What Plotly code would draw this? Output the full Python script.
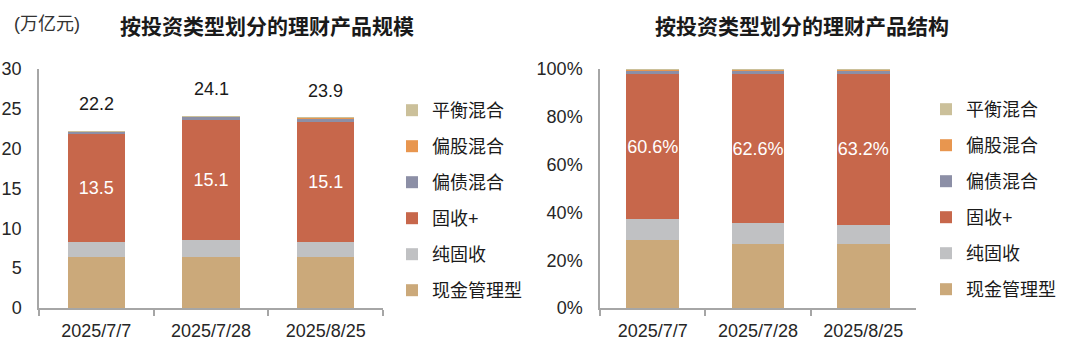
import plotly.graph_objects as go

# Reporting dates
dates = ["2025/7/7", "2025/7/28", "2025/8/25"]

# Product types, bottom to top of each stack
types = ["现金管理型", "纯固收", "固收+", "偏债混合", "偏股混合", "平衡混合"]
colors = ["#CBA97A", "#C0C1C3", "#C7674B", "#8C8FA6", "#E8964F", "#CBC09A"]

# Scale by type (万亿元)
scale_cash = [6.40, 6.45, 6.35]
scale_pure_fixed = [1.90, 2.05, 1.95]
scale_fixed_plus = [13.5, 15.1, 15.1]
scale_bond_mix = [0.30, 0.40, 0.40]
scale_equity_mix = [0.05, 0.05, 0.05]
scale_balanced = [0.05, 0.05, 0.05]
scale_totals = [22.2, 24.1, 23.9]

# Share of total by type (%)
share_cash = [28.6, 26.8, 26.8]
share_pure_fixed = [8.5, 8.6, 8.1]
share_fixed_plus = [60.6, 62.6, 63.2]
share_bond_mix = [1.7, 1.5, 1.4]
share_equity_mix = [0.3, 0.2, 0.2]
share_balanced = [0.3, 0.3, 0.3]

scale_series = [scale_cash, scale_pure_fixed, scale_fixed_plus,
                scale_bond_mix, scale_equity_mix, scale_balanced]
share_series = [share_cash, share_pure_fixed, share_fixed_plus,
                share_bond_mix, share_equity_mix, share_balanced]

FONT = "Arial, 'Liberation Sans', 'Noto Sans CJK SC', sans-serif"
CJK_FONT = "'Noto Sans CJK SC', sans-serif"
TICK_COLOR = "#262626"
AXIS_COLOR = "#A6A6A6"

fig = go.Figure()

for i, name in enumerate(types):
    is_plus = name == "固收+"
    common = dict(
        name=name, legendrank=len(types) - i,
        marker=dict(color=colors[i], line=dict(width=0)),
        textposition="inside" if is_plus else "none",
        insidetextanchor="middle", textangle=0,
        textfont=dict(color="white", size=18, family=FONT),
        constraintext="none", hoverinfo="x+y+name",
    )
    fig.add_trace(go.Bar(
        x=dates, y=scale_series[i], legendgroup=name, legend="legend",
        xaxis="x", yaxis="y",
        text=[f"{v:.1f}" for v in scale_series[i]] if is_plus else None,
        **common,
    ))
    fig.add_trace(go.Bar(
        x=dates, y=share_series[i], legendgroup=name + "_share", legend="legend2",
        xaxis="x2", yaxis="y2",
        text=[f"{v:.1f}%" for v in share_series[i]] if is_plus else None,
        **common,
    ))

# Total scale above each stack
for d, t in zip(dates, scale_totals):
    fig.add_annotation(x=d, y=t, xref="x", yref="y", text=f"{t:.1f}",
                       showarrow=False, yshift=27,
                       font=dict(size=18, color="#1A1A1A", family=FONT))

# Titles and unit label
for cx, title in [(267, "按投资类型划分的理财产品规模"), (802, "按投资类型划分的理财产品结构")]:
    fig.add_annotation(x=cx / 1080, y=1 - 25 / 341, xref="paper", yref="paper",
                       xanchor="center", yanchor="middle",
                       text=f"<b>{title}</b>", showarrow=False,
                       font=dict(size=21, color="#1A1A1A", family=CJK_FONT))
fig.add_annotation(x=47 / 1080, y=1 - 24 / 341, xref="paper", yref="paper",
                   xanchor="center", yanchor="middle",
                   text="(万亿元)", showarrow=False,
                   font=dict(size=18, color="#333333", family=FONT))

xaxis_style = dict(
    type="category", showline=True, linecolor=AXIS_COLOR, linewidth=1.5,
    ticks="outside", tickson="boundaries", ticklen=6, tickcolor=AXIS_COLOR,
    tickwidth=1.5, showgrid=False, zeroline=False, ticklabelstandoff=6,
    automargin=False,
    tickfont=dict(size=18, color=TICK_COLOR, family=FONT),
)
yaxis_style = dict(
    showline=True, linecolor=AXIS_COLOR, linewidth=1.5, ticks="",
    showgrid=False, zeroline=False, ticklabelstandoff=12, automargin=False,
    tickfont=dict(size=18, color=TICK_COLOR, family=FONT),
)

legend_style = dict(
    orientation="v", traceorder="grouped", tracegroupgap=9.6,
    font=dict(size=18, color="#1A1A1A", family=FONT),
    itemwidth=30, yanchor="top", bgcolor="rgba(0,0,0,0)",
    itemclick=False, itemdoubleclick=False,
)

fig.update_layout(
    width=1080, height=341,
    margin=dict(l=0, r=0, t=0, b=0),
    paper_bgcolor="white", plot_bgcolor="white",
    barmode="stack", bargap=0.5,
    showlegend=True,
    xaxis=dict(domain=[39 / 1080, 383 / 1080], **xaxis_style),
    yaxis=dict(domain=[0.0968, 0.7977], range=[0, 30], dtick=5, **yaxis_style),
    xaxis2=dict(domain=[600 / 1080, 916 / 1080], anchor="y2", **xaxis_style),
    yaxis2=dict(domain=[0.0968, 0.7977], range=[0, 100], dtick=20,
                ticksuffix="%", anchor="x2", **yaxis_style),
    legend=dict(x=392 / 1080, y=1 - 92 / 341, **legend_style),
    legend2=dict(x=926 / 1080, y=1 - 91 / 341, **legend_style),
)

fig.write_html("out.html")
